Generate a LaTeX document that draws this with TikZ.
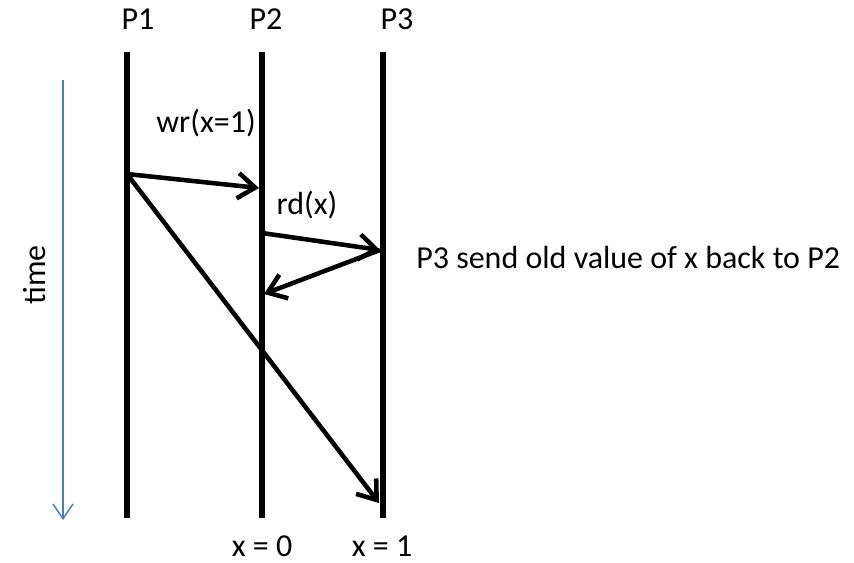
\documentclass[tikz,border=0pt]{standalone}
\usepackage{fontspec}
\setmainfont{Carlito}
\usetikzlibrary{arrows.meta}
\definecolor{timeblue}{RGB}{74,126,187}
\tikzset{
  procline/.style={line width=4.2pt},
  msg/.style={line width=3.4pt,-{Straight Barb[length=13pt,width=19pt,line width=3.4pt]}},
  lbl/.style={font=\fontsize{24}{28}\selectfont, inner sep=0pt},
  timearrow/.style={draw=timeblue,line width=1.1pt,-{Straight Barb[length=11pt,width=15pt,line width=1.1pt]}}
}
\begin{document}
\begin{tikzpicture}[x=0.75pt,y=-0.75pt]
\useasboundingbox (0,0) rectangle (854,563);
% process lines
\coordinate (p1t) at (127,52); \coordinate (p1b) at (127,518);
\coordinate (p2t) at (262,52); \coordinate (p2b) at (262,518);
\coordinate (p3t) at (383,52); \coordinate (p3b) at (383,518);
\draw[procline] (p1t) -- (p1b);
\draw[procline] (p2t) -- (p2b);
\draw[procline] (p3t) -- (p3b);
% labels
\node[lbl] (l1) at (138,19) {P1};
\node[lbl] (l2) at (266,19) {P2};
\node[lbl] (l3) at (397,19) {P3};
\node[lbl] (wr) at (206,123) {wr(x=1)};
\node[lbl] (rd) at (307,205) {rd(x)};
\node[lbl,anchor=west] (note) at (416,258) {P3 send old value of x back to P2};
\node[lbl] (x0) at (262,546) {x = 0};
\node[lbl] (x1) at (382,546) {x = 1};
\node[lbl,rotate=90] (time) at (35,275) {time};
% time arrow
\coordinate (tt) at (63,80); \coordinate (tb) at (63,520);
\draw[timearrow] (tt) -- (tb);
% messages
\coordinate (a) at (127,174);
\coordinate (b) at (259,188);
\coordinate (c) at (262,233);
\coordinate (d) at (380,250);
\coordinate (e) at (264,294);
\coordinate (f) at (379,503);
\draw[msg] (a) -- (b);
\draw[msg] (c) -- (d);
\draw[msg] (d) -- (e);
\draw[msg] (a) -- (f);
\end{tikzpicture}
\end{document}
